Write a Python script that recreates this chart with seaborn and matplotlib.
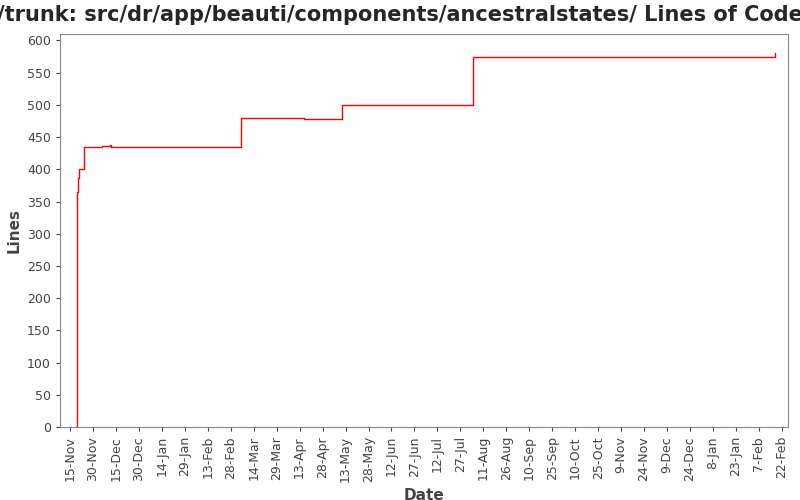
import matplotlib
matplotlib.use("Agg")
import matplotlib.pyplot as plt
import seaborn as sns
import pandas as pd

dates = ["2007-11-19 00:00", "2007-11-19 12:00", "2007-11-20 00:00", "2007-11-20 12:00", "2007-11-21 00:00",
         "2007-11-24 00:00", "2007-12-06 00:00", "2007-12-11 00:00", "2007-12-11 12:00",
         "2008-03-06 00:00", "2008-04-16 00:00", "2008-05-11 00:00", "2008-08-04 00:00",
         "2009-02-17 00:00", "2009-02-17 12:00"]
lines = [0, 365, 367, 387, 401, 434, 436, 438, 434, 480, 478, 500, 575, 575, 581]

df = pd.DataFrame({"Date": pd.to_datetime(dates, format="%Y-%m-%d %H:%M"), "Lines": lines})

sns.set_style("white")
fig = plt.figure(figsize=(8, 5), dpi=100)
ax = fig.add_axes([0.075, 0.146, 0.91, 0.786])
sns.lineplot(data=df, x="Date", y="Lines", ax=ax, color="red", linewidth=1,
             drawstyle="steps-post")

start = pd.Timestamp("2007-11-15")
ax.set_xlim(start - pd.Timedelta(days=6.5), start + pd.Timedelta(days=469))
ax.set_ylim(0, 610)
ticks = pd.date_range(start, periods=32, freq="15D")
ax.set_xticks(ticks)
ax.set_xticklabels([f"{t.day}-{t.strftime('%b')}" for t in ticks], rotation=90)
ax.set_yticks(range(0, 601, 50))
ax.tick_params(labelsize=9, colors="#444444", length=3, direction="out", left=True, bottom=True)
for s in ax.spines.values():
    s.set_color("#888888")
ax.set_xlabel("Date", fontsize=11, fontweight="bold", color="#444444")
ax.set_ylabel("Lines", fontsize=11, fontweight="bold", color="#444444")
fig.suptitle("/trunk: src/dr/app/beauti/components/ancestralstates/ Lines of Code",
             fontsize=15, fontweight="bold", y=0.99)
fig.savefig("out.png", dpi=100)
